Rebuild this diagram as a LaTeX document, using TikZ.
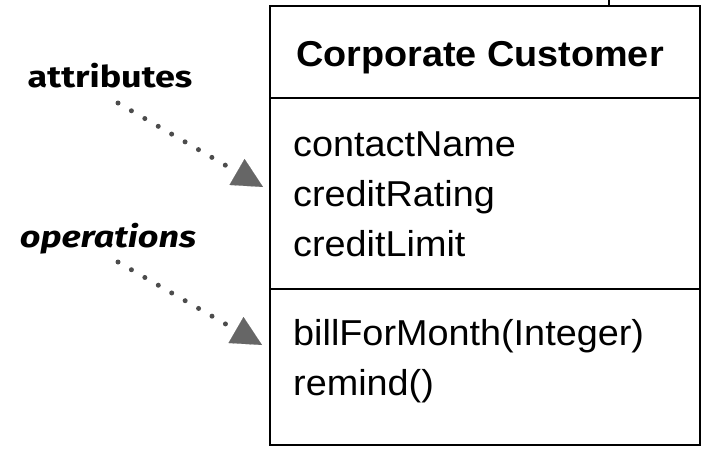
\documentclass[tikz,border=0pt]{standalone}
\usepackage{fontspec}
\usetikzlibrary{arrows.meta}
\newfontfamily\umlfont[FakeStretch=1.05]{Liberation Sans}
\newfontfamily\notefont[FakeStretch=1.2]{Fira Sans}

\begin{document}
\begin{tikzpicture}[x=1pt,y=-1pt,
   compart/.style={draw,line width=1.9pt,inner sep=0pt,minimum width=430pt},
   member/.style={anchor=base west,inner sep=0pt,font=\umlfont\fontsize{36}{40}\selectfont},
   note/.style={inner sep=0pt,font=\notefont\bfseries\fontsize{30}{32}\selectfont},
   pointer/.style={black!70,line width=5pt,line cap=round,dash pattern=on 0pt off 15.5pt,
      -{Triangle[length=30pt,width=30pt,line width=0.1pt,fill=black!60,color=black!60]}}]
   \useasboundingbox (0,0) rectangle (713,455);
   % class box
   \node[compart,minimum height=92pt] (name) at (485,52) {};
   \node[compart,minimum height=191pt] (attrs) at (485,193.5) {};
   \node[compart,minimum height=156pt] (ops) at (485,367) {};
   \node[anchor=base,inner sep=0pt,font=\umlfont\bfseries\fontsize{36}{40}\selectfont] (title) at (480,66) {Corporate Customer};
   \node[member] (a1) at (293,156) {contactName};
   \node[member] (a2) at (293,206) {creditRating};
   \node[member] (a3) at (293,256) {creditLimit};
   \node[member] (o1) at (293,345) {billForMonth(Integer)};
   \node[member] (o2) at (293,395) {remind()};
   % association going off the top
   \coordinate (assocup) at (609,0);
   \draw[line width=1.9pt] (name.north -| assocup) -- (assocup);
   % notes
   \node[note,anchor=base] (attrlbl) at (110,87) {attributes};
   \node[note,anchor=base,font=\notefont\bfseries\itshape\fontsize{30}{32}\selectfont] (oplbl) at (108,247) {operations};
   \coordinate (attrfrom) at (118,103);
   \coordinate (attrto) at (263,187);
   \coordinate (opfrom) at (118,262);
   \coordinate (opto) at (262,345);
   \draw[pointer] (attrfrom) -- (attrto);
   \draw[pointer] (opfrom) -- (opto);
\end{tikzpicture}
\end{document}
